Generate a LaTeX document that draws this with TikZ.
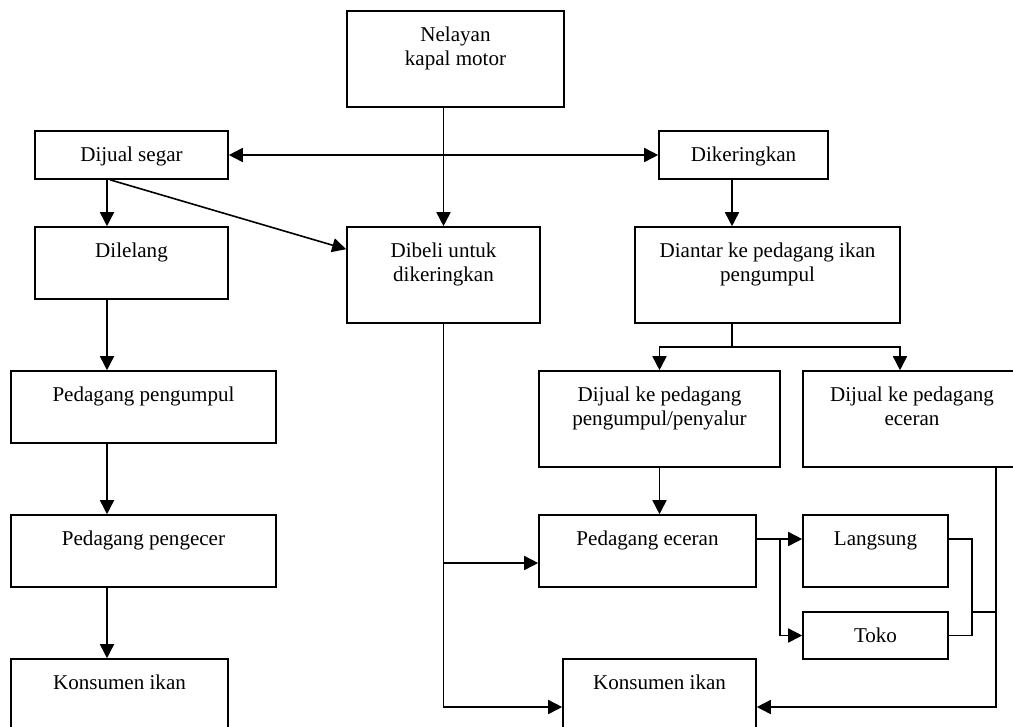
\documentclass[tikz,border=0pt]{standalone}
\usepackage{fontspec}
\setmainfont{Liberation Serif}
\usetikzlibrary{arrows.meta,calc}

\begin{document}
\begin{tikzpicture}[x=0.75pt,y=-0.75pt,
  box/.style n args={2}{draw, line width=1.2pt, inner sep=0pt,
    minimum width=#1*0.75pt, minimum height=#2*0.75pt},
  txt/.style={anchor=base, align=center, inner sep=0pt,
    font=\fontsize{15.8}{18.5}\selectfont},
  link/.style={line width=1.2pt},
  arr/.style={link, -{Triangle[length=10.5pt,width=10.5pt]}},
  darr/.style={link, {Triangle[length=10.5pt,width=10.5pt]}-{Triangle[length=10.5pt,width=10.5pt]}}]

\useasboundingbox (0,0) rectangle (1013,726);
\clip (0,0) rectangle (1013,726);

% boxes
\node[box={217}{96}]  (nel)   at (455.5,59)  {};
\node[box={193}{48}]  (segar) at (131.5,155) {};
\node[box={169}{48}]  (kering) at (743.5,155) {};
\node[box={193}{72}]  (lelang) at (131.5,263) {};
\node[box={193}{96}]  (dibeli) at (443.5,275) {};
\node[box={265}{96}]  (antar) at (767.5,275) {};
\node[box={265}{72}]  (pengumpul) at (143.5,407) {};
\node[box={241}{96}]  (penyalur) at (659.5,419) {};
\node[box={218}{96}]  (jeceran) at (912,419) {};
\node[box={265}{72}]  (pengecer) at (143.5,551) {};
\node[box={217}{72}]  (peceran) at (647.5,551) {};
\node[box={145}{72}]  (langsung) at (875.5,551) {};
\node[box={145}{47}]  (toko) at (875.5,635.5) {};
\node[box={217}{96}]  (konkiri) at (119.5,707) {};
\node[box={193}{96}]  (konmid) at (659.5,707) {};

% one-line labels: baseline 31px below each box top
\foreach \n/\t in {segar/{Dijual segar}, kering/{Dikeringkan},
  lelang/{Dilelang}, pengumpul/{Pedagang pengumpul},
  pengecer/{Pedagang pengecer}, peceran/{Pedagang eceran},
  langsung/{Langsung}, toko/{Toko},
  konkiri/{Konsumen ikan}, konmid/{Konsumen ikan}}
  \node[txt] (\n-t) at ([yshift=-31*0.75pt]\n.north) {\t};

% two-line labels: the base anchor sits on the second line
\foreach \n/\t in {nel/{Nelayan\\kapal motor},
  dibeli/{Dibeli untuk\\dikeringkan},
  antar/{Diantar ke pedagang ikan\\pengumpul},
  penyalur/{Dijual ke pedagang\\pengumpul/penyalur},
  jeceran/{Dijual ke pedagang\\eceran}}
  \node[txt] (\n-t) at ([yshift=-31*0.75pt-18.5pt]\n.north) {\t};

% guide coordinates for off-centre connectors
\coordinate (lcol) at (107,0);
\coordinate (rcol) at (732,0);
\coordinate (split) at (732,347);
\coordinate (jin) at (900,0);
\coordinate (side) at (0,563);
\coordinate (lrow) at (0,539);
\coordinate (bend) at (780,0);
\coordinate (joinx) at (972,0);
\coordinate (joiny) at (0,612);
\coordinate (outx) at (996,0);

% left column
\draw[arr] (nel.south -| dibeli.north) -- (dibeli.north);
\draw[darr] (segar.east) -- (kering.west);
\draw[arr] (segar.south -| lcol) -- (lelang.north -| lcol);
\draw[arr] ([xshift=3*0.75pt]segar.south -| lcol) -- ($(dibeli.north west)+(0,23)$);
\draw[arr] (lelang.south -| lcol) -- (pengumpul.north -| lcol);
\draw[arr] (pengumpul.south -| lcol) -- (pengecer.north -| lcol);
\draw[arr] (pengecer.south -| lcol) -- (konkiri.north -| lcol);

% drying branch
\draw[arr] (kering.south -| rcol) -- (antar.north -| rcol);
\draw[link] (antar.south -| rcol) -- (split);
\draw[arr] (split) -| (penyalur.north);
\draw[arr] (split) -| (jeceran.north -| jin);
\draw[arr] (penyalur.south) -- (peceran.north -| penyalur.south);

% from Dibeli untuk dikeringkan
\draw[arr] (dibeli.south) |- (konmid.west);
\draw[arr] (dibeli.south |- side) -- (peceran.west |- side);

% retail outlets
\draw[arr] (peceran.east |- lrow) -- (langsung.west |- lrow);
\draw[arr] (bend |- lrow) |- (toko.west);
\draw[link] (langsung.east |- lrow) -| (joinx |- toko.east) -- (toko.east);
\draw[link] (joinx |- joiny) -- (outx |- joiny);
\draw[arr] (jeceran.south -| outx) |- (konmid.east);

\end{tikzpicture}
\end{document}
